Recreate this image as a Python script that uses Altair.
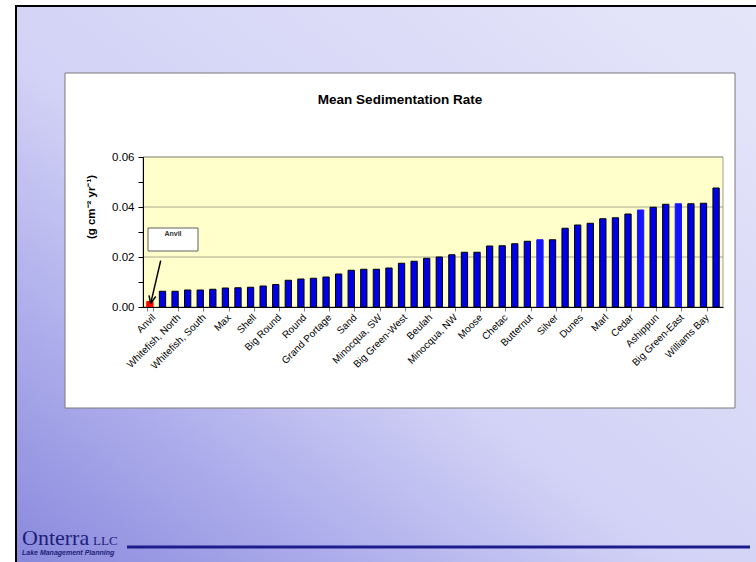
import altair as alt
import pandas as pd

# ---- data ----
tick_labels = ["Anvil", "Whitefish, North", "Whitefish, South", "Max", "Shell",
               "Big Round", "Round", "Grand Portage", "Sand", "Minocqua, SW",
               "Big Green-West", "Beulah", "Minocqua, NW", "Moose", "Chetac",
               "Butternut", "Silver", "Dunes", "Marl", "Cedar", "Ashippun",
               "Big Green-East", "Williams Bay"]
rates = [0.0022, 0.0063, 0.0063, 0.0068, 0.0068, 0.0071, 0.0076, 0.0077, 0.0079, 0.0084,
         0.0090, 0.0107, 0.0112, 0.0115, 0.0120, 0.0132, 0.0147, 0.0151, 0.0151, 0.0156,
         0.0175, 0.0183, 0.0195, 0.0200, 0.0209, 0.0219, 0.0219, 0.0244, 0.0245, 0.0253,
         0.0263, 0.0269, 0.0269, 0.0315, 0.0328, 0.0335, 0.0353, 0.0357, 0.0372, 0.0388,
         0.0399, 0.0411, 0.0413, 0.0413, 0.0415, 0.0476]
highlight_idx = [0]
bright_idx = [31, 39, 42]
grid_values = [0.02, 0.04, 0.06]
y_ticks = [0, 0.01, 0.02, 0.03, 0.04, 0.05, 0.06]

idx = list(range(len(rates)))
kind = ["highlight" if i in highlight_idx else ("bright" if i in bright_idx else "normal") for i in idx]
df = pd.DataFrame({"idx": idx, "rate": rates, "kind": kind})
one = pd.DataFrame({"a": [0]})
grid_df = pd.DataFrame({"rate": grid_values})

W, H = 580, 150
FONT = "Liberation Sans"

label_arr = "[" + ",".join("'" + s + "'" for s in tick_labels) + "]"

base1 = alt.Chart(one)

# page background gradient
page_bg = base1.mark_rect(
    color={"gradient": "linear", "x1": 0, "y1": 1, "x2": 1, "y2": 0,
           "stops": [{"offset": 0, "color": "#8787dc"},
                     {"offset": 0.22, "color": "#ababeb"},
                     {"offset": 0.45, "color": "#d2d2f6"},
                     {"offset": 1, "color": "#e6e6fa"}]},
    stroke="black", strokeWidth=2, clip=False
).encode(x=alt.value(-127), x2=alt.value(620), y=alt.value(-151), y2=alt.value(420))

# white chart box
box = base1.mark_rect(fill="white", stroke="#7a7a7a", strokeWidth=1, clip=False).encode(
    x=alt.value(-78), x2=alt.value(592), y=alt.value(-84), y2=alt.value(251))

# plot area
plot_bg = base1.mark_rect(fill="#ffffcc", stroke="#a0a0a0", strokeWidth=1).encode(
    x=alt.value(0), x2=alt.value(W), y=alt.value(0), y2=alt.value(H))

y_scale = alt.Scale(domain=[0, 0.06], nice=False, zero=True)
y_axis = alt.Axis(title=None, values=y_ticks,
                  labelExpr="round(datum.value*100) % 2 == 0 ? format(datum.value, '.2f') : ''",
                  labelFont=FONT, labelFontSize=11.5, labelColor="black",
                  labelPadding=4, tickSize=5, tickColor="black",
                  domainColor="black", grid=False, zindex=1)

grid = alt.Chart(grid_df).mark_rule(color="#a8a890", strokeWidth=1).encode(
    y=alt.Y("rate:Q", scale=y_scale, axis=y_axis),
    x=alt.value(0), x2=alt.value(W))

bars = alt.Chart(df).mark_bar(strokeWidth=1).encode(
    x=alt.X("idx:O", scale=alt.Scale(paddingInner=0.5, paddingOuter=0.3),
            axis=alt.Axis(title=None, values=list(range(0, len(rates), 2)),
                          labelExpr=label_arr + "[floor(datum.value/2)]",
                          labelAngle=-45, labelAlign="right", labelBaseline="top",
                          labelFont=FONT, labelFontSize=10, labelColor="black",
                          labelPadding=1, tickBand="extent", tickSize=4,
                          tickColor="#808080", domainColor="black", grid=False,
                          zindex=1)),
    y=alt.Y("rate:Q", scale=y_scale, axis=y_axis),
    color=alt.Color("kind:N", scale=alt.Scale(domain=["normal", "bright", "highlight"],
                                              range=["#0000e8", "#1414ff", "#ff0000"]),
                    legend=None),
    stroke=alt.Stroke("kind:N", scale=alt.Scale(domain=["normal", "bright", "highlight"],
                                                range=["#000000", "#1414ff", "#ff0000"]),
                      legend=None),
)

title = base1.mark_text(text="Mean Sedimentation Rate", font=FONT, fontSize=13.5,
                        fontWeight="bold", color="black", clip=False).encode(
    x=alt.value(257), y=alt.value(-57))

ytitle = base1.mark_text(text="(g cm⁻² yr⁻¹)", font=FONT, fontSize=11.5, fontWeight="bold",
                         angle=270, color="black", clip=False).encode(
    x=alt.value(-51), y=alt.value(50))

ann_box = base1.mark_rect(fill="white", stroke="#606060", strokeWidth=1).encode(
    x=alt.value(5), x2=alt.value(55), y=alt.value(71), y2=alt.value(94))
ann_text = base1.mark_text(text="Anvil", font=FONT, fontSize=7, fontWeight="bold",
                           color="#333333").encode(x=alt.value(30), y=alt.value(77))
arrow = base1.mark_rule(color="black", strokeWidth=1.5).encode(
    x=alt.value(17.7), y=alt.value(103.7), x2=alt.value(7.7), y2=alt.value(146.3))
head1 = base1.mark_rule(color="black", strokeWidth=1.5).encode(
    x=alt.value(7.7), y=alt.value(146.3), x2=alt.value(12.8), y2=alt.value(139.5))
head2 = base1.mark_rule(color="black", strokeWidth=1.5).encode(
    x=alt.value(7.7), y=alt.value(146.3), x2=alt.value(6.0), y2=alt.value(138.3))

logo1 = base1.mark_text(text="Onterra", font="Liberation Serif", fontSize=22,
                        color="#1e1e78", align="left", baseline="alphabetic", clip=False).encode(
    x=alt.value(-121), y=alt.value(388))
logo2 = base1.mark_text(text="LLC", font="Liberation Serif", fontSize=13,
                        color="#1e1e78", align="left", baseline="alphabetic", clip=False).encode(
    x=alt.value(-50), y=alt.value(388))
logo3 = base1.mark_text(text="Lake Management Planning", font=FONT, fontSize=7,
                        fontWeight="bold", fontStyle="italic", color="#1e1e78",
                        align="left", baseline="alphabetic", clip=False).encode(
    x=alt.value(-121), y=alt.value(398))
line = base1.mark_rule(color="#1c1c8c", strokeWidth=3, clip=False).encode(
    x=alt.value(-16), x2=alt.value(607), y=alt.value(390))

chart = alt.layer(page_bg, box, plot_bg, grid, bars, title, ytitle, ann_box, ann_text,
                  arrow, head1, head2, logo1, logo2, logo3, line).resolve_scale(
    color="independent", stroke="independent"
).properties(
    width=W, height=H,
    autosize=alt.AutoSizeParams(type="none"),
    padding={"left": 143, "top": 157, "right": 33, "bottom": 255},
    background="white",
).configure_view(stroke=None)

chart.save("out.html", embed_options={"renderer": "svg", "actions": False})
